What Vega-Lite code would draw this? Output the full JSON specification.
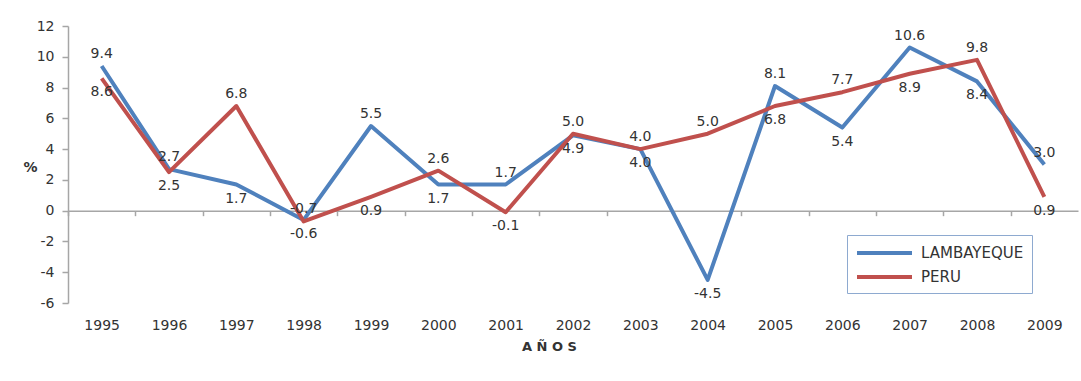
{
  "$schema": "https://vega.github.io/schema/vega-lite/v6.json",
  "width": 1010,
  "height": 277,
  "autosize": {"type": "none"},
  "padding": {"left": 68, "top": 26, "right": 3, "bottom": 78},
  "background": "white",
  "config": {
    "font": "DejaVu Sans",
    "view": {"stroke": null},
    "axis": {"labelFont": "DejaVu Sans", "titleFont": "DejaVu Sans", "labelColor": "#333333", "titleColor": "#333333", "grid": false},
    "axisY": {"labelOverlap": false}
  },
  "data": {"values": [
    {"year": "1995", "series": "LAMBAYEQUE", "value": 9.4},
    {"year": "1996", "series": "LAMBAYEQUE", "value": 2.7},
    {"year": "1997", "series": "LAMBAYEQUE", "value": 1.7},
    {"year": "1998", "series": "LAMBAYEQUE", "value": -0.6},
    {"year": "1999", "series": "LAMBAYEQUE", "value": 5.5},
    {"year": "2000", "series": "LAMBAYEQUE", "value": 1.7},
    {"year": "2001", "series": "LAMBAYEQUE", "value": 1.7},
    {"year": "2002", "series": "LAMBAYEQUE", "value": 4.9},
    {"year": "2003", "series": "LAMBAYEQUE", "value": 4.0},
    {"year": "2004", "series": "LAMBAYEQUE", "value": -4.5},
    {"year": "2005", "series": "LAMBAYEQUE", "value": 8.1},
    {"year": "2006", "series": "LAMBAYEQUE", "value": 5.4},
    {"year": "2007", "series": "LAMBAYEQUE", "value": 10.6},
    {"year": "2008", "series": "LAMBAYEQUE", "value": 8.4},
    {"year": "2009", "series": "LAMBAYEQUE", "value": 3.0},
    {"year": "1995", "series": "PERU", "value": 8.6},
    {"year": "1996", "series": "PERU", "value": 2.5},
    {"year": "1997", "series": "PERU", "value": 6.8},
    {"year": "1998", "series": "PERU", "value": -0.7},
    {"year": "1999", "series": "PERU", "value": 0.9},
    {"year": "2000", "series": "PERU", "value": 2.6},
    {"year": "2001", "series": "PERU", "value": -0.1},
    {"year": "2002", "series": "PERU", "value": 5.0},
    {"year": "2003", "series": "PERU", "value": 4.0},
    {"year": "2004", "series": "PERU", "value": 5.0},
    {"year": "2005", "series": "PERU", "value": 6.8},
    {"year": "2006", "series": "PERU", "value": 7.7},
    {"year": "2007", "series": "PERU", "value": 8.9},
    {"year": "2008", "series": "PERU", "value": 9.8},
    {"year": "2009", "series": "PERU", "value": 0.9}
  ]},
  "transform": [
    {"joinaggregate": [{"op": "max", "field": "value", "as": "vmax"}, {"op": "min", "field": "value", "as": "vmin"}], "groupby": ["year"]},
    {"calculate": "(datum.vmax - datum.vmin) <= 0.15 ? (datum.series == 'PERU' ? 'above' : 'below') : (datum.value == datum.vmax ? 'above' : 'below')", "as": "pos"},
    {"calculate": "replace(format(datum.value, '.1f'), '\u2212', '-')", "as": "label"}
  ],
  "encoding": {
    "y": {"field": "value", "type": "quantitative", "scale": {"domain": [-6, 12], "nice": false, "zero": false},
      "axis": {"values": [-6, -4, -2, 0, 2, 4, 6, 8, 10, 12], "tickCount": 10, "labelOverlap": false, "labelExpr": "'' + datum.value", "domainColor": "#a6a6a6", "domainWidth": 1.5, "tickColor": "#a6a6a6", "tickWidth": 1.5, "tickSize": 6,
        "labelFontSize": 14, "labelPadding": 8, "title": "%", "titleAngle": 0, "titleX": -38, "titleY": 141, "titleAlign": "center", "titleBaseline": "middle", "titleFontSize": 14, "titleFontWeight": "bold"}}
  },
  "resolve": {"axis": {"x": "independent"}},
  "layer": [
    {
      "mark": {"type": "line", "strokeWidth": 4, "strokeJoin": "round"},
      "encoding": {
        "x": {"field": "year", "type": "ordinal", "scale": {"type": "point", "padding": 0.5},
          "axis": {"orient": "bottom", "domain": false, "ticks": false, "labelAngle": 0, "labelFontSize": 14, "labelPadding": 15,
            "title": "A Ñ O S", "titleFontSize": 13, "titleFontWeight": "bold", "titlePadding": 8, "titleX": 481, "titleAnchor": null}},
        "color": {"field": "series", "type": "nominal",
          "scale": {"domain": ["LAMBAYEQUE", "PERU"], "range": ["#4f81bd", "#c0504d"]},
          "legend": {"title": null, "orient": "none", "legendX": 779, "legendY": 209, "symbolType": "M-1,0H5.875", "symbolSize": 256, "symbolStrokeWidth": 4,
            "labelFontSize": 15, "labelColor": "#333333", "labelFont": "DejaVu Sans", "labelOffset": 46, "rowPadding": 6, "padding": 8, "strokeColor": "#8eaad0", "fillColor": "white"}}
      }
    },
    {
      "transform": [{"filter": "datum.pos == 'above'"}],
      "mark": {"type": "text", "fontSize": 14, "dy": -12, "baseline": "middle", "color": "#333333"},
      "encoding": {
        "x": {"field": "year", "type": "ordinal",
          "axis": {"orient": "bottom", "offset": -92.33, "labels": false, "title": null, "domain": true, "domainColor": "#a6a6a6", "domainWidth": 1.5, "ticks": true, "tickColor": "#a6a6a6", "tickWidth": 1.5, "tickSize": 5, "tickOffset": -33.67}},
        "text": {"field": "label", "type": "nominal"}
      }
    },
    {
      "transform": [{"filter": "datum.pos == 'below'"}],
      "mark": {"type": "text", "fontSize": 14, "dy": 14, "baseline": "middle", "color": "#333333"},
      "encoding": {
        "x": {"field": "year", "type": "ordinal", "axis": null},
        "text": {"field": "label", "type": "nominal"}
      }
    }
  ]
}
